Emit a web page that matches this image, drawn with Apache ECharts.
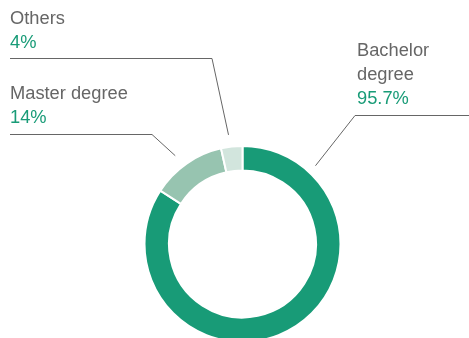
<!DOCTYPE html>
<html>
<head>
<meta charset="utf-8">
<script src="https://cdn.jsdelivr.net/npm/echarts@6/dist/echarts.min.js"></script>
<style>
  html, body { margin: 0; padding: 0; background: #fff; }
  #chart { width: 469px; height: 338px; }
</style>
</head>
<body>
<div id="chart"></div>
<script>
// Education level breakdown
const categories = ['Bachelor degree', 'Master degree', 'Others'];
const values = [95.7, 14, 4];
const valueLabels = ['95.7%', '14%', '4%'];
const colors = ['#189b77', '#97c4b0', '#d2e5dd'];

const FONT = '"Liberation Sans", Arial, sans-serif';
const FONT_SIZE = 18.3;
const CX = 242.5, CY = 244, R_IN = 73.5, R_OUT = 98;

// Where each label block sits and how its leader line runs
// (anchor given as clockwise angle from 12 o'clock, plus distance from centre)
const labelSpots = [
  { x: 357, y: 39, lineY: 115.5, elbowX: 355, endX: 469, anchorDeg: 43, anchorR: 107 },
  { x: 10, y: 82, lineY: 134.5, elbowX: 152, endX: 10, anchorDeg: -37.3, anchorR: 111 },
  { x: 10, y: 7, lineY: 58.5, elbowX: 212, endX: 10, anchorDeg: -7.3, anchorR: 110 }
];

function polar(deg, r) {
  const a = deg * Math.PI / 180;
  return [CX + r * Math.sin(a), CY - r * Math.cos(a)];
}

const chart = echarts.init(document.getElementById('chart'), null, { renderer: 'canvas' });

chart.setOption({
  animation: false,
  color: colors,
  series: [{
    type: 'pie',
    center: [CX, CY],
    radius: [R_IN, R_OUT],
    startAngle: 90,
    clockwise: true,
    avoidLabelOverlap: false,
    emphasis: { disabled: true },
    itemStyle: { borderColor: '#fff', borderWidth: 2 },
    label: {
      show: true,
      position: 'outside',
      fontFamily: FONT,
      formatter: function (p) {
        const name = p.dataIndex === 0 ? p.name.replace(' ', '\n') : p.name;
        return '{n|' + name + '}\n{v|' + valueLabels[p.dataIndex] + '}';
      },
      rich: {
        n: { color: '#666666', fontSize: FONT_SIZE, lineHeight: 24, fontFamily: FONT },
        v: { color: '#189b77', fontSize: FONT_SIZE, lineHeight: 24, fontFamily: FONT }
      }
    },
    labelLine: {
      show: true,
      length: 10,
      length2: 10,
      lineStyle: { color: '#666666', width: 1 }
    },
    labelLayout: function (params) {
      const s = labelSpots[params.dataIndex];
      return {
        x: s.x,
        y: s.y,
        align: 'left',
        verticalAlign: 'top',
        labelLinePoints: [
          polar(s.anchorDeg, s.anchorR),
          [s.elbowX, s.lineY],
          [s.endX, s.lineY]
        ]
      };
    },
    data: categories.map(function (c, i) { return { name: c, value: values[i] }; })
  }]
});
</script>
</body>
</html>
